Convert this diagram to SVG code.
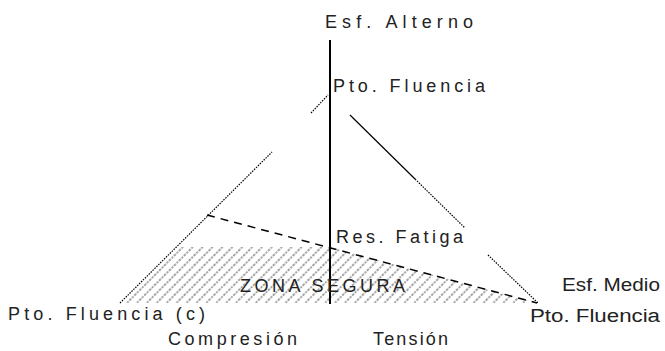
<svg xmlns="http://www.w3.org/2000/svg" width="665" height="351" viewBox="0 0 665 351">
<style>
.t{font-family:"Liberation Sans",Arial,sans-serif;font-size:18px;fill:#222;}
.ln{stroke:#000;stroke-width:1.2;fill:none;}
.dot{stroke:#000;stroke-width:1.2;fill:none;stroke-dasharray:1.5 1.2;}
.dash{stroke:#000;stroke-width:1.5;fill:none;stroke-dasharray:8 6;}
.axis{stroke:#000;stroke-width:2;fill:none;}
</style>
<defs>
<pattern id="hatch" patternUnits="userSpaceOnUse" width="7" height="7" patternTransform="rotate(45)">
<line x1="3" y1="0" x2="3" y2="7" stroke="#444" stroke-width="1" stroke-dasharray="2 1.2"/>
</pattern>
</defs>
<rect width="665" height="351" fill="#fff"/>
<g id="safe-zone">
<polygon points="178,247 330,247 537,303 120,303" fill="url(#hatch)"/>
</g>
<g id="connectors">
<line class="axis" x1="330" y1="40" x2="330" y2="304"/>
<line class="dot" x1="120" y1="303" x2="272" y2="152"/>
<line class="dot" x1="311" y1="113" x2="328" y2="95"/>
<line class="ln" x1="350" y1="115" x2="415" y2="179"/>
<line class="dot" x1="415" y1="179" x2="465" y2="228"/>
<line class="dot" x1="488" y1="255" x2="538" y2="303"/>
<line class="dash" x1="207" y1="215" x2="537" y2="303"/>
</g>
<g id="label-esf-alterno"><text class="t" x="325" y="28" textLength="148" lengthAdjust="spacing">Esf. Alterno</text></g>
<g id="label-pto-fluencia-top"><text class="t" x="333" y="92" textLength="152" lengthAdjust="spacing">Pto. Fluencia</text></g>
<g id="label-res-fatiga"><text class="t" x="336" y="243" textLength="127" lengthAdjust="spacing">Res. Fatiga</text></g>
<g id="label-esf-medio"><text class="t" x="562" y="291" textLength="98" lengthAdjust="spacingAndGlyphs">Esf. Medio</text></g>
<g id="label-pto-fluencia-right"><text class="t" x="530" y="322" textLength="130" lengthAdjust="spacingAndGlyphs">Pto. Fluencia</text></g>
<g id="label-pto-fluencia-c"><text class="t" x="8" y="320" textLength="197" lengthAdjust="spacing">Pto. Fluencia (c)</text></g>
<g id="label-compresion"><text class="t" x="168" y="345" textLength="129" lengthAdjust="spacing">Compresión</text></g>
<g id="label-tension"><text class="t" x="373" y="345" textLength="75" lengthAdjust="spacing">Tensión</text></g>
<g id="label-zona-segura"><text class="t" x="240" y="292" textLength="165" lengthAdjust="spacing">ZONA SEGURA</text></g>
</svg>
